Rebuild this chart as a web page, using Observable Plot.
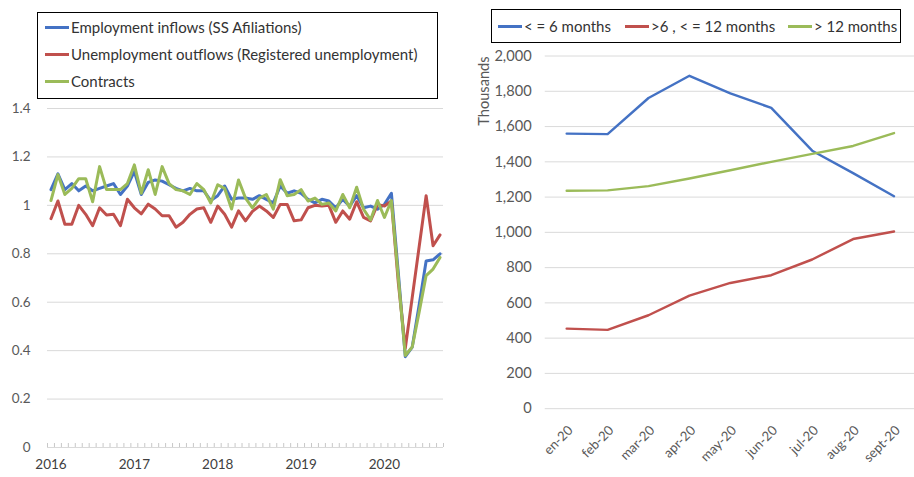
<!DOCTYPE html>
<html>
<head>
<meta charset="utf-8">
<script src="https://cdn.jsdelivr.net/npm/d3@7"></script>
<script src="https://cdn.jsdelivr.net/npm/@observablehq/plot@0.6"></script>
<style>
  html, body { margin: 0; padding: 0; background: #fff; overflow: hidden; width: 914px; height: 477px; font-family: Lato, "Open Sans", sans-serif; }
  #left { position: absolute; left: 0; top: 0; }
  #right { position: absolute; left: 460px; top: 0; }
  .legend { position: absolute; border: 1px solid #000; background: #fff; box-sizing: border-box; color: #333; font-size: 15px; }
  .item { position: absolute; display: flex; align-items: center; white-space: nowrap; }
  .sw { display: inline-block; height: 3px; margin-right: 2px; }
</style>
</head>
<body>
<div id="left"></div>
<div id="right"></div>
<div id="legendL" class="legend" style="left:37px; top:12px; width:401px; height:87px;"></div>
<div id="legendR" class="legend" style="left:491px; top:9px; width:410px; height:34px;"></div>
<script>
// ---------- Left chart data (monthly, Jan 2016 – Sep 2020) ----------
const leftYears = ["2016", "2017", "2018", "2019", "2020"];
const leftNames = ["Employment inflows (SS Afiliations)", "Unemployment outflows (Registered unemployment)", "Contracts"];
const leftColors = ["#4472C4", "#C0504D", "#9BBB59"];
const leftTicks = [0, 0.2, 0.4, 0.6, 0.8, 1, 1.2, 1.4];

const employmentInflows = [
  1.065, 1.13, 1.065, 1.09, 1.06, 1.08, 1.06, 1.07, 1.08, 1.09, 1.045, 1.08,
  1.14, 1.045, 1.095, 1.105, 1.10, 1.085, 1.07, 1.06, 1.07, 1.06, 1.06, 1.02,
  1.04, 1.08, 1.025, 1.03, 1.03, 1.025, 1.04, 1.025, 1.01, 1.08, 1.05, 1.06,
  1.05, 1.025, 1.01, 1.025, 1.018, 0.99, 1.025, 0.997, 1.04, 0.99, 0.997, 0.984,
  1.004, 1.05, 0.72, 0.375, 0.415, 0.59, 0.77, 0.775, 0.80
];
const unemploymentOutflows = [
  0.945, 1.018, 0.922, 0.922, 1.0, 0.963, 0.916, 0.99, 0.96, 0.963, 0.916, 1.025,
  0.99, 0.965, 1.005, 0.985, 0.957, 0.957, 0.91, 0.93, 0.963, 0.985, 0.99, 0.93,
  0.997, 0.963, 0.91, 0.977, 0.936, 0.975, 0.997, 0.977, 0.95, 1.004, 1.004, 0.936,
  0.94, 0.99, 1.0, 0.997, 1.0, 0.93, 0.977, 0.943, 1.015, 0.95, 0.936, 1.004,
  0.997, 1.018, 0.68, 0.41, 0.62, 0.83, 1.04, 0.833, 0.878
];
const contracts = [
  1.02, 1.127, 1.045, 1.07, 1.11, 1.11, 1.015, 1.16, 1.065, 1.065, 1.065, 1.09,
  1.167, 1.05, 1.147, 1.045, 1.16, 1.09, 1.065, 1.06, 1.045, 1.09, 1.065, 1.01,
  1.085, 1.07, 0.985, 1.105, 1.03, 0.99, 1.03, 1.045, 0.984, 1.106, 1.04, 1.045,
  1.065, 1.018, 1.03, 1.004, 1.01, 0.977, 1.045, 0.99, 1.075, 0.984, 0.94, 1.02,
  0.95, 1.02, 0.70, 0.38, 0.415, 0.56, 0.71, 0.737, 0.785
];

// ---------- Right chart data (thousands) ----------
const months = ["en-20", "feb-20", "mar-20", "apr-20", "may-20", "jun-20", "jul-20", "aug-20", "sept-20"];
const rightNames = ["< = 6 months", ">6 , < = 12 months", "> 12 months"];
const rightColors = ["#4472C4", "#C0504D", "#9BBB59"];
const rightTicks = [0, 200, 400, 600, 800, 1000, 1200, 1400, 1600, 1800, 2000];
const upTo6 = [1560, 1557, 1762, 1888, 1788, 1706, 1463, 1336, 1205];
const from6To12 = [454, 447, 530, 641, 713, 757, 846, 962, 1005];
const over12 = [1236, 1238, 1262, 1305, 1352, 1400, 1445, 1490, 1563];

// ---------- Build tables ----------
const leftSeries = [employmentInflows, unemploymentOutflows, contracts];
const leftRows = [];
leftSeries.forEach((vals, k) => vals.forEach((v, i) => leftRows.push({i, v, s: leftNames[k]})));
const nMonths = employmentInflows.length;
const boundaries = d3.range(nMonths + 1).map(i => i - 0.5);
const yearIdx = leftYears.map((y, k) => k * 12);

const rightSeries = [upTo6, from6To12, over12];
const rightRows = [];
rightSeries.forEach((vals, k) => vals.forEach((v, i) => rightRows.push({m: months[i], v, s: rightNames[k]})));

const fontL = {fontFamily: "Lato, 'Open Sans', sans-serif", fontSize: "13.5px", color: "#595959", background: "transparent"};
const fontR = {fontFamily: "Lato, 'Open Sans', sans-serif", fontSize: "15px", color: "#595959", background: "transparent"};

const leftPlot = Plot.plot({
  width: 455, height: 477,
  marginLeft: 47, marginRight: 12, marginTop: 108, marginBottom: 30,
  style: fontL,
  x: {domain: [-0.5, nMonths - 0.5], label: null},
  y: {domain: [0, 1.4], label: null},
  color: {domain: leftNames, range: leftColors},
  marks: [
    Plot.gridY(leftTicks.filter(d => d > 0), {stroke: "#d9d9d9", strokeOpacity: 1}),
    Plot.ruleY([0], {stroke: "#d9d9d9"}),
    Plot.axisX(boundaries, {tickSize: 4, dy: -4, tickFormat: () => "", stroke: "#c8c8c8", label: null}),
    Plot.axisX(yearIdx, {tickSize: 0, tickPadding: 12, tickFormat: i => leftYears[i / 12], fill: "#404040", label: null}),
    Plot.axisY(leftTicks, {tickSize: 0, tickPadding: 17, tickFormat: d => String(d), fill: "#595959", label: null}),
    Plot.line(leftRows, {x: "i", y: "v", z: "s", stroke: "s", strokeWidth: 3, strokeLinejoin: "round"})
  ]
});
document.getElementById("left").append(leftPlot);

const rightPlot = Plot.plot({
  width: 466, height: 477,
  marginLeft: 87, marginRight: 0, marginTop: 57, marginBottom: 58,
  style: fontR,
  x: {type: "point", domain: months, padding: 0.5, label: null},
  y: {domain: [0, 2000], label: null},
  color: {domain: rightNames, range: rightColors},
  marks: [
    Plot.gridY(rightTicks.filter(d => d > 0), {stroke: "#d9d9d9", strokeOpacity: 1}),
    Plot.ruleY([0], {stroke: "#d9d9d9"}),
    Plot.axisY(rightTicks, {tickSize: 0, tickPadding: 14, tickFormat: d3.format(","), fill: "#595959", label: null}),
    Plot.axisX({tickSize: 0, tickPadding: 20, dx: 4, tickRotate: -45, fontSize: 13.5, fill: "#595959", label: null}),
    Plot.text(["Thousands"], {frameAnchor: "top-left", dx: -63, dy: 36, rotate: -90, textAnchor: "middle", lineAnchor: "middle", fill: "#595959", fontSize: 15}),
    Plot.line(rightRows, {x: "m", y: "v", z: "s", stroke: "s", strokeWidth: 2.5, strokeLinejoin: "round"})
  ]
});
document.getElementById("right").append(rightPlot);

// ---------- Legends ----------
const legL = document.getElementById("legendL");
leftNames.forEach((n, k) => {
  const it = document.createElement("div");
  it.className = "item";
  it.style.left = "7px";
  it.style.top = (4 + k * 27) + "px";
  it.style.height = "20px";
  it.innerHTML = `<span class="sw" style="width:24px;background:${leftColors[k]}"></span><span>${n}</span>`;
  legL.append(it);
});
const legR = document.getElementById("legendR");
const rightItemX = [6, 133, 296];
rightNames.forEach((n, k) => {
  const it = document.createElement("div");
  it.className = "item";
  it.style.left = rightItemX[k] + "px";
  it.style.top = "6px";
  it.style.height = "20px";
  it.innerHTML = `<span class="sw" style="width:24px;background:${rightColors[k]}"></span><span>${n}</span>`;
  legR.append(it);
});
</script>
</body>
</html>
